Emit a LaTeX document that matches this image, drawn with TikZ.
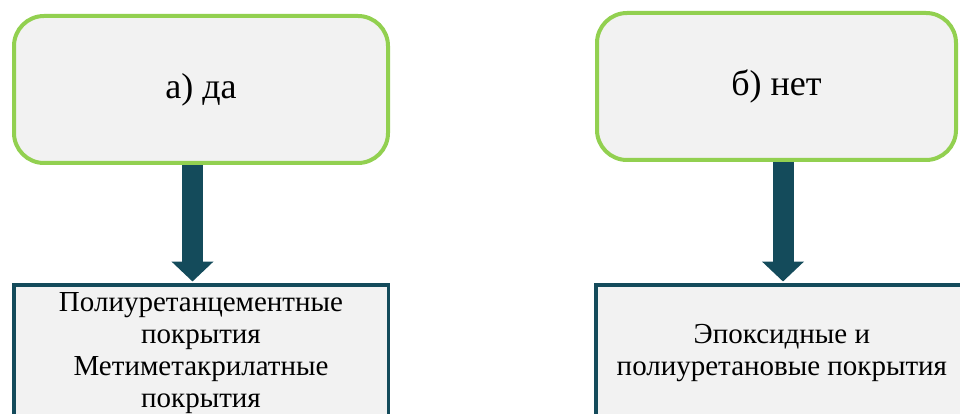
\documentclass[tikz,border=0pt]{standalone}
\usepackage{fontspec}
\setmainfont{Liberation Serif}
\usetikzlibrary{arrows.meta}
\definecolor{answergreen}{HTML}{92D050}
\definecolor{boxgray}{HTML}{F2F2F2}
\definecolor{darkteal}{HTML}{144B5B}
\tikzset{
	answer/.style={draw=answergreen, line width=4pt, fill=boxgray, rounded corners=30pt,
		minimum height=147pt, inner sep=0pt, font=\fontsize{36}{40}\selectfont},
	coating/.style={draw=darkteal, line width=3.5pt, fill=boxgray, align=center,
		minimum height=136pt, inner sep=0pt, font=\fontsize{29}{32}\selectfont},
	flow/.style={darkteal, line width=21pt, shorten >=1.5pt,
		-{Triangle[width=41pt,length=20pt]}}
}

\begin{document}
\begin{tikzpicture}[x=1pt, y=-1pt]
		\useasboundingbox (0,0) rectangle (960,414);
		\coordinate (YesC) at (201,89.5);
		\coordinate (NoC) at (776.5,86.5);
		\coordinate (PuC) at (201,352.75);
		\coordinate (EpC) at (781.9,352.75);
		\draw (YesC) node[answer, minimum width=374pt] (yes) {а) да};
		\draw (NoC) node[answer, minimum width=359pt] (no) {б) нет};
		\draw (PuC) node[coating, minimum width=374.5pt] (pu)
		{Полиуретанцементные\\покрытия\\Метиметакрилатные\\покрытия};
		\draw (EpC) node[coating, minimum width=372pt] (ep)
		{Эпоксидные и\\полиуретановые покрытия};
		
		\draw[flow] ([xshift=-8.5pt]yes.south) -- ([xshift=-8.5pt]pu.north);
		\draw[flow] ([xshift=6.5pt]no.south) -- ([xshift=6.5pt]no.south |- ep.north);
		\end{tikzpicture}
\end{document}
